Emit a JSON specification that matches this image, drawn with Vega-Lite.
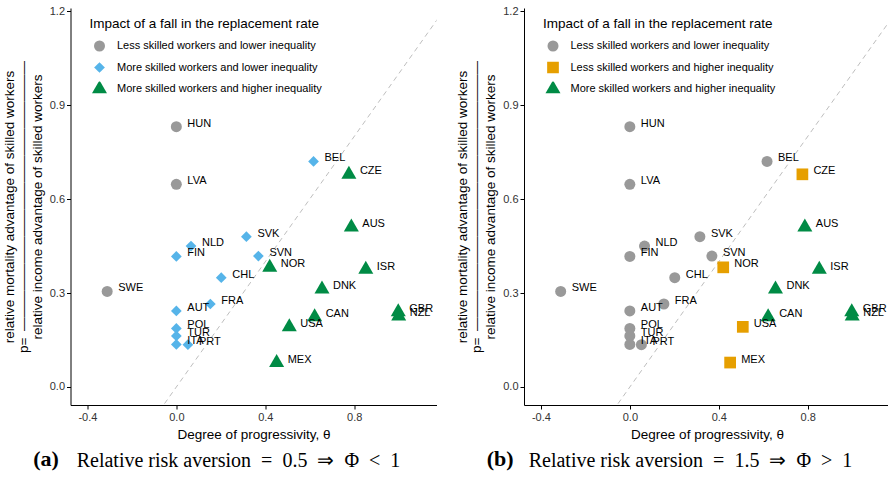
{
  "$schema": "https://vega.github.io/schema/vega-lite/v6.json",
  "padding": {"left": 1.5, "top": 5, "right": 0, "bottom": 0},
  "spacing": 18.5,
  "datasets": {
    "pts": [
      {"country": "HUN", "x": 0.0, "y": 0.831, "a": "Less skilled workers and lower inequality", "b": "Less skilled workers and lower inequality"},
      {"country": "LVA", "x": 0.0, "y": 0.647, "a": "Less skilled workers and lower inequality", "b": "Less skilled workers and lower inequality"},
      {"country": "BEL", "x": 0.617, "y": 0.72, "a": "More skilled workers and lower inequality", "b": "Less skilled workers and lower inequality"},
      {"country": "CZE", "x": 0.776, "y": 0.679, "a": "More skilled workers and higher inequality", "b": "Less skilled workers and higher inequality"},
      {"country": "AUS", "x": 0.787, "y": 0.51, "a": "More skilled workers and higher inequality", "b": "More skilled workers and higher inequality"},
      {"country": "SVK", "x": 0.315, "y": 0.48, "a": "More skilled workers and lower inequality", "b": "Less skilled workers and lower inequality"},
      {"country": "NLD", "x": 0.066, "y": 0.45, "a": "More skilled workers and lower inequality", "b": "Less skilled workers and lower inequality"},
      {"country": "FIN", "x": 0.0, "y": 0.417, "a": "More skilled workers and lower inequality", "b": "Less skilled workers and lower inequality"},
      {"country": "SVN", "x": 0.369, "y": 0.418, "a": "More skilled workers and lower inequality", "b": "Less skilled workers and lower inequality"},
      {"country": "NOR", "x": 0.42, "y": 0.382, "a": "More skilled workers and higher inequality", "b": "Less skilled workers and higher inequality"},
      {"country": "ISR", "x": 0.852, "y": 0.375, "a": "More skilled workers and higher inequality", "b": "More skilled workers and higher inequality"},
      {"country": "CHL", "x": 0.202, "y": 0.349, "a": "More skilled workers and lower inequality", "b": "Less skilled workers and lower inequality"},
      {"country": "DNK", "x": 0.655, "y": 0.312, "a": "More skilled workers and higher inequality", "b": "More skilled workers and higher inequality"},
      {"country": "SWE", "x": -0.311, "y": 0.305, "a": "Less skilled workers and lower inequality", "b": "Less skilled workers and lower inequality"},
      {"country": "FRA", "x": 0.153, "y": 0.265, "a": "More skilled workers and lower inequality", "b": "Less skilled workers and lower inequality"},
      {"country": "AUT", "x": 0.0, "y": 0.243, "a": "More skilled workers and lower inequality", "b": "Less skilled workers and lower inequality"},
      {"country": "GBR", "x": 0.998, "y": 0.24, "a": "More skilled workers and higher inequality", "b": "More skilled workers and higher inequality"},
      {"country": "NZL", "x": 1.0, "y": 0.226, "a": "More skilled workers and higher inequality", "b": "More skilled workers and higher inequality"},
      {"country": "CAN", "x": 0.622, "y": 0.224, "a": "More skilled workers and higher inequality", "b": "More skilled workers and higher inequality"},
      {"country": "USA", "x": 0.508, "y": 0.192, "a": "More skilled workers and higher inequality", "b": "Less skilled workers and higher inequality"},
      {"country": "POL", "x": 0.0, "y": 0.187, "a": "More skilled workers and lower inequality", "b": "Less skilled workers and lower inequality"},
      {"country": "TUR", "x": 0.0, "y": 0.163, "a": "More skilled workers and lower inequality", "b": "Less skilled workers and lower inequality"},
      {"country": "ITA", "x": 0.0, "y": 0.136, "a": "More skilled workers and lower inequality", "b": "Less skilled workers and lower inequality"},
      {"country": "PRT", "x": 0.052, "y": 0.135, "a": "More skilled workers and lower inequality", "b": "Less skilled workers and lower inequality"},
      {"country": "MEX", "x": 0.451, "y": 0.078, "a": "More skilled workers and higher inequality", "b": "Less skilled workers and higher inequality"}
    ],
    "ref": [{"x": -0.1, "y": -0.1}, {"x": 1.3, "y": 1.3}]
  },
  "config": {
    "font": "Liberation Sans",
    "view": {"stroke": null},
    "axis": {"grid": false, "domainColor": "#000", "domainWidth": 1, "tickColor": "#000", "tickWidth": 1, "tickSize": 4, "labelFont": "Liberation Sans", "labelFontSize": 11, "labelColor": "#333", "titleFont": "Liberation Sans", "titleFontSize": 13.5, "titleFontWeight": "normal", "titleColor": "#000"},
    "legend": {"titleFont": "Liberation Sans", "titleFontSize": 13.5, "titleFontWeight": "normal", "titleColor": "#000", "labelFont": "Liberation Sans", "labelFontSize": 11, "labelColor": "#000", "labelOffset": 10, "rowPadding": 6.5, "titlePadding": 8, "symbolStrokeWidth": 0, "padding": 0, "labelLimit": 0, "titleLimit": 0, "clipHeight": 15, "symbolOffset": 2.5}
  },
  "resolve": {"scale": {"color": "independent", "shape": "independent", "size": "independent"}, "legend": {"color": "independent", "shape": "independent", "size": "independent"}},
  "hconcat": [
    {
      "title": {"text": "(a)", "orient": "bottom", "anchor": "start", "font": "Liberation Serif", "fontSize": 22, "fontWeight": "bold", "color": "#000", "dx": 31, "dy": -22, "offset": 0},
      "vconcat": [
        {
          "width": 366, "height": 397,
          "title": {"text": "Relative risk aversion\u2002=\u20020.5\u2002⇒\u2002Φ\u2002<\u20021", "orient": "bottom", "anchor": "middle", "dx": -15, "font": "Liberation Serif", "fontSize": 20, "fontWeight": "normal", "color": "#000", "offset": 10},
          "encoding": {
            "x": {"field": "x", "type": "quantitative", "scale": {"domain": [-0.476, 1.17], "nice": false, "zero": false}, "axis": {"values": [-0.4, 0, 0.4, 0.8], "labelExpr": "replace(format(datum.value, '.1f'), '\u2212', '-')", "title": "Degree of progressivity, θ", "labelPadding": 2, "titlePadding": 5}},
            "y": {"field": "y", "type": "quantitative", "scale": {"domain": [-0.0575, 1.21], "nice": false, "zero": false}, "axis": {"values": [0, 0.3, 0.6, 0.9, 1.2], "format": ".1f", "title": ["\u2003\u2002relative mortality advantage of skilled workers", "p=\u2002————————————————————", "\u2003\u2002relative income advantage of skilled workers"], "titleLineHeight": 14, "titlePadding": 5, "labelPadding": 2}}
          },
          "layer": [
            {"data": {"name": "ref"}, "mark": {"type": "line", "strokeDash": [5, 4], "color": "#BEBEBE", "strokeWidth": 1, "clip": true}, "encoding": {}},
            {"data": {"name": "pts"}, "mark": {"type": "point", "filled": true, "opacity": 1},
             "encoding": {
               "color": {"field": "a", "type": "nominal", "scale": {"domain": ["Less skilled workers and lower inequality", "More skilled workers and lower inequality", "More skilled workers and higher inequality"], "range": ["#999999", "#56B4E9", "#008B45"]}, "legend": {"title": "Impact of a fall in the replacement rate", "orient": "none", "legendX": 19, "legendY": 9}},
               "shape": {"field": "a", "type": "nominal", "scale": {"domain": ["Less skilled workers and lower inequality", "More skilled workers and lower inequality", "More skilled workers and higher inequality"], "range": ["circle", "diamond", "M0,-1.155L1,0.577L-1,0.577Z"]}, "legend": {"title": "Impact of a fall in the replacement rate", "orient": "none", "legendX": 19, "legendY": 9}},
               "size": {"field": "a", "type": "nominal", "scale": {"type": "ordinal", "domain": ["Less skilled workers and lower inequality", "More skilled workers and lower inequality", "More skilled workers and higher inequality"], "range": [121, 115, 225]}, "legend": {"title": "Impact of a fall in the replacement rate", "orient": "none", "legendX": 19, "legendY": 9}}
             }},
            {"data": {"name": "pts"}, "mark": {"type": "text", "align": "left", "baseline": "middle", "dx": 11, "dy": -3, "fontSize": 11, "color": "#000"}, "encoding": {"text": {"field": "country", "type": "nominal"}}}
          ]
        }
      ]
    },
    {
      "title": {"text": "(b)", "orient": "bottom", "anchor": "start", "font": "Liberation Serif", "fontSize": 22, "fontWeight": "bold", "color": "#000", "dx": 31, "dy": -22, "offset": 0},
      "vconcat": [
        {
          "width": 366, "height": 397,
          "title": {"text": "Relative risk aversion\u2002=\u20021.5\u2002⇒\u2002Φ\u2002>\u20021", "orient": "bottom", "anchor": "middle", "dx": -16.5, "font": "Liberation Serif", "fontSize": 20, "fontWeight": "normal", "color": "#000", "offset": 10},
          "encoding": {
            "x": {"field": "x", "type": "quantitative", "scale": {"domain": [-0.476, 1.17], "nice": false, "zero": false}, "axis": {"values": [-0.4, 0, 0.4, 0.8], "labelExpr": "replace(format(datum.value, '.1f'), '\u2212', '-')", "title": "Degree of progressivity, θ", "labelPadding": 2, "titlePadding": 5}},
            "y": {"field": "y", "type": "quantitative", "scale": {"domain": [-0.0575, 1.21], "nice": false, "zero": false}, "axis": {"values": [0, 0.3, 0.6, 0.9, 1.2], "format": ".1f", "title": ["\u2003\u2002relative mortality advantage of skilled workers", "p=\u2002————————————————————", "\u2003\u2002relative income advantage of skilled workers"], "titleLineHeight": 14, "titlePadding": 5, "labelPadding": 2}}
          },
          "layer": [
            {"data": {"name": "ref"}, "mark": {"type": "line", "strokeDash": [5, 4], "color": "#BEBEBE", "strokeWidth": 1, "clip": true}, "encoding": {}},
            {"data": {"name": "pts"}, "mark": {"type": "point", "filled": true, "opacity": 1},
             "encoding": {
               "color": {"field": "b", "type": "nominal", "scale": {"domain": ["Less skilled workers and lower inequality", "Less skilled workers and higher inequality", "More skilled workers and higher inequality"], "range": ["#999999", "#E69F00", "#008B45"]}, "legend": {"title": "Impact of a fall in the replacement rate", "orient": "none", "legendX": 19, "legendY": 9}},
               "shape": {"field": "b", "type": "nominal", "scale": {"domain": ["Less skilled workers and lower inequality", "Less skilled workers and higher inequality", "More skilled workers and higher inequality"], "range": ["circle", "square", "M0,-1.155L1,0.577L-1,0.577Z"]}, "legend": {"title": "Impact of a fall in the replacement rate", "orient": "none", "legendX": 19, "legendY": 9}},
               "size": {"field": "b", "type": "nominal", "scale": {"type": "ordinal", "domain": ["Less skilled workers and lower inequality", "Less skilled workers and higher inequality", "More skilled workers and higher inequality"], "range": [121, 137, 225]}, "legend": {"title": "Impact of a fall in the replacement rate", "orient": "none", "legendX": 19, "legendY": 9}}
             }},
            {"data": {"name": "pts"}, "mark": {"type": "text", "align": "left", "baseline": "middle", "dx": 11, "dy": -3, "fontSize": 11, "color": "#000"}, "encoding": {"text": {"field": "country", "type": "nominal"}}}
          ]
        }
      ]
    }
  ]
}
